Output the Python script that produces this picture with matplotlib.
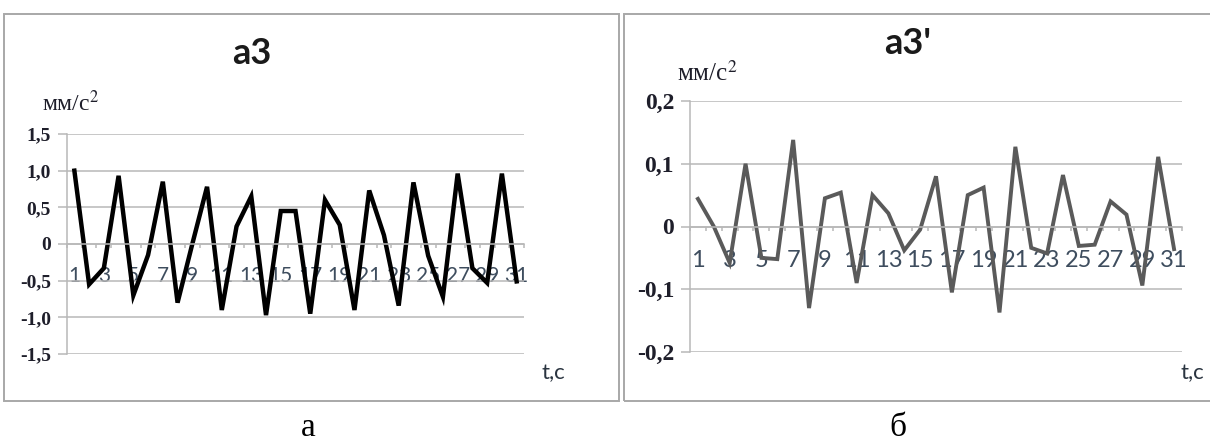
import numpy as np
import matplotlib.pyplot as plt
from matplotlib.patches import Rectangle

plt.rcParams['mathtext.fontset'] = 'stix'

# data
t = list(range(1, 32))
a3 = [1.0, -0.55, -0.33, 0.93, -0.70, -0.15, 0.85, -0.80, 0.0, 0.78,
      -0.90, 0.24, 0.65, -0.97, 0.45, 0.45, -0.95, 0.60, 0.26, -0.90,
      0.73, 0.12, -0.84, 0.84, -0.16, -0.72, 0.96, -0.33, -0.53, 0.96,
      -0.51]
a3_prime = [0.044, 0.0, -0.058, 0.100, -0.050, -0.052, 0.138, -0.130, 0.045, 0.054,
            -0.090, 0.050, 0.021, -0.038, -0.005, 0.080, -0.105, 0.050, 0.062, -0.137,
            0.127, -0.034, -0.043, 0.082, -0.031, -0.029, 0.040, 0.019, -0.094, 0.111,
            -0.036]
x_labels = [str(i) for i in t[::2]]
left_yticks = [-1.5, -1.0, -0.5, 0, 0.5, 1.0, 1.5]
left_ylabels = ['-1,5', '-1,0', '-0,5', '0', '0,5', '1,0', '1,5']
right_yticks = [-0.2, -0.1, 0, 0.1, 0.2]
right_ylabels = ['-0,2', '-0,1', '0', '0,1', '0,2']

W, H = 1210, 446
grid = '#b8b8b8'
fig = plt.figure(figsize=(W / 100, H / 100), dpi=100)


def px_axes(x0, y0, x1, y1):
    # box given in pixels, origin top-left
    return fig.add_axes([x0 / W, 1 - y1 / H, (x1 - x0) / W, (y1 - y0) / H])


def ftext(x, y, s, **kw):
    return fig.text(x / W, 1 - y / H, s, **kw)


def setup(ax, yticks, ylabels, ysize, xsize, xpad):
    ax.set_xlim(0.5, 31.5)
    ax.set_ylim(yticks[0], yticks[-1])
    for s in ['top', 'right']:
        ax.spines[s].set_visible(False)
    ax.spines['bottom'].set_position(('data', 0))
    ax.spines['bottom'].set_color(grid)
    ax.spines['bottom'].set_linewidth(1.1)
    ax.spines['left'].set_color(grid)
    ax.spines['left'].set_linewidth(1.1)
    ax.set_yticks(yticks, ylabels)
    ax.yaxis.grid(True, color=grid, lw=1.1)
    ax.tick_params(axis='y', length=6.5, width=1.1, color=grid, pad=5)
    for lab in ax.get_yticklabels():
        lab.set_fontfamily('Liberation Serif')
        lab.set_fontweight('bold')
        lab.set_fontsize(ysize)
        lab.set_color('#1e1e2a')
    ax.set_xticks(t[::2], x_labels)
    ax.set_xticks(np.arange(0.5, 32, 1), minor=True)
    ax.tick_params(axis='x', which='major', length=0, pad=xpad)
    ax.tick_params(axis='x', which='minor', length=3, width=1.1, color=grid)
    for lab in ax.get_xticklabels():
        lab.set_fontfamily('Lato')
        lab.set_fontsize(xsize)
        lab.set_color('#3e4d5e')
    ax.set_axisbelow(True)
    ax.patch.set_alpha(0)


# outer frames
fig.add_artist(Rectangle((4 / W, 1 - 401 / H), 615 / W, 387 / H, transform=fig.transFigure,
                         fill=False, ec='#a8a8a8', lw=1.4))
fig.add_artist(Rectangle((624 / W, 1 - 401 / H), 590 / W, 387 / H, transform=fig.transFigure,
                         fill=False, ec='#a8a8a8', lw=1.4))

# left chart: a3
ax1 = px_axes(67, 134, 524, 354)
ax1.plot(t, a3, color='black', lw=3.2, solid_joinstyle='miter')
setup(ax1, left_yticks, left_ylabels, 14, 15, 16)
ftext(252, 53, 'а3', ha='center', va='center', fontsize=26, fontweight='bold',
      family='Lato', color='#1a1a1a')
ftext(42, 103, r'мм/с$^{2}$', ha='left', va='center', fontsize=17,
      family='Liberation Serif', color='#1e1e2a')
ftext(553, 373, 't,c', ha='center', va='center', fontsize=16, family='Lato', color='#2a3440')

# right chart: a3'
ax2 = px_axes(690, 101, 1182, 352)
ax2.plot(t, a3_prime, color='#5a5a5a', lw=2.8, solid_joinstyle='miter')
setup(ax2, right_yticks, right_ylabels, 17, 17, 17)
ftext(908, 43, "а3'", ha='center', va='center', fontsize=26, fontweight='bold',
      family='Lato', color='#1a1a1a')
ftext(677, 73, r'мм/с$^{2}$', ha='left', va='center', fontsize=18,
      family='Liberation Serif', color='#1e1e2a')
ftext(1192, 373, 't,c', ha='center', va='center', fontsize=16, family='Lato', color='#2a3440')

# panel letters
ftext(308, 428, 'а', ha='center', va='center', fontsize=24, family='Liberation Serif')
ftext(898, 428, 'б', ha='center', va='center', fontsize=24, family='Liberation Serif')

fig.savefig('out.png', dpi=100)
